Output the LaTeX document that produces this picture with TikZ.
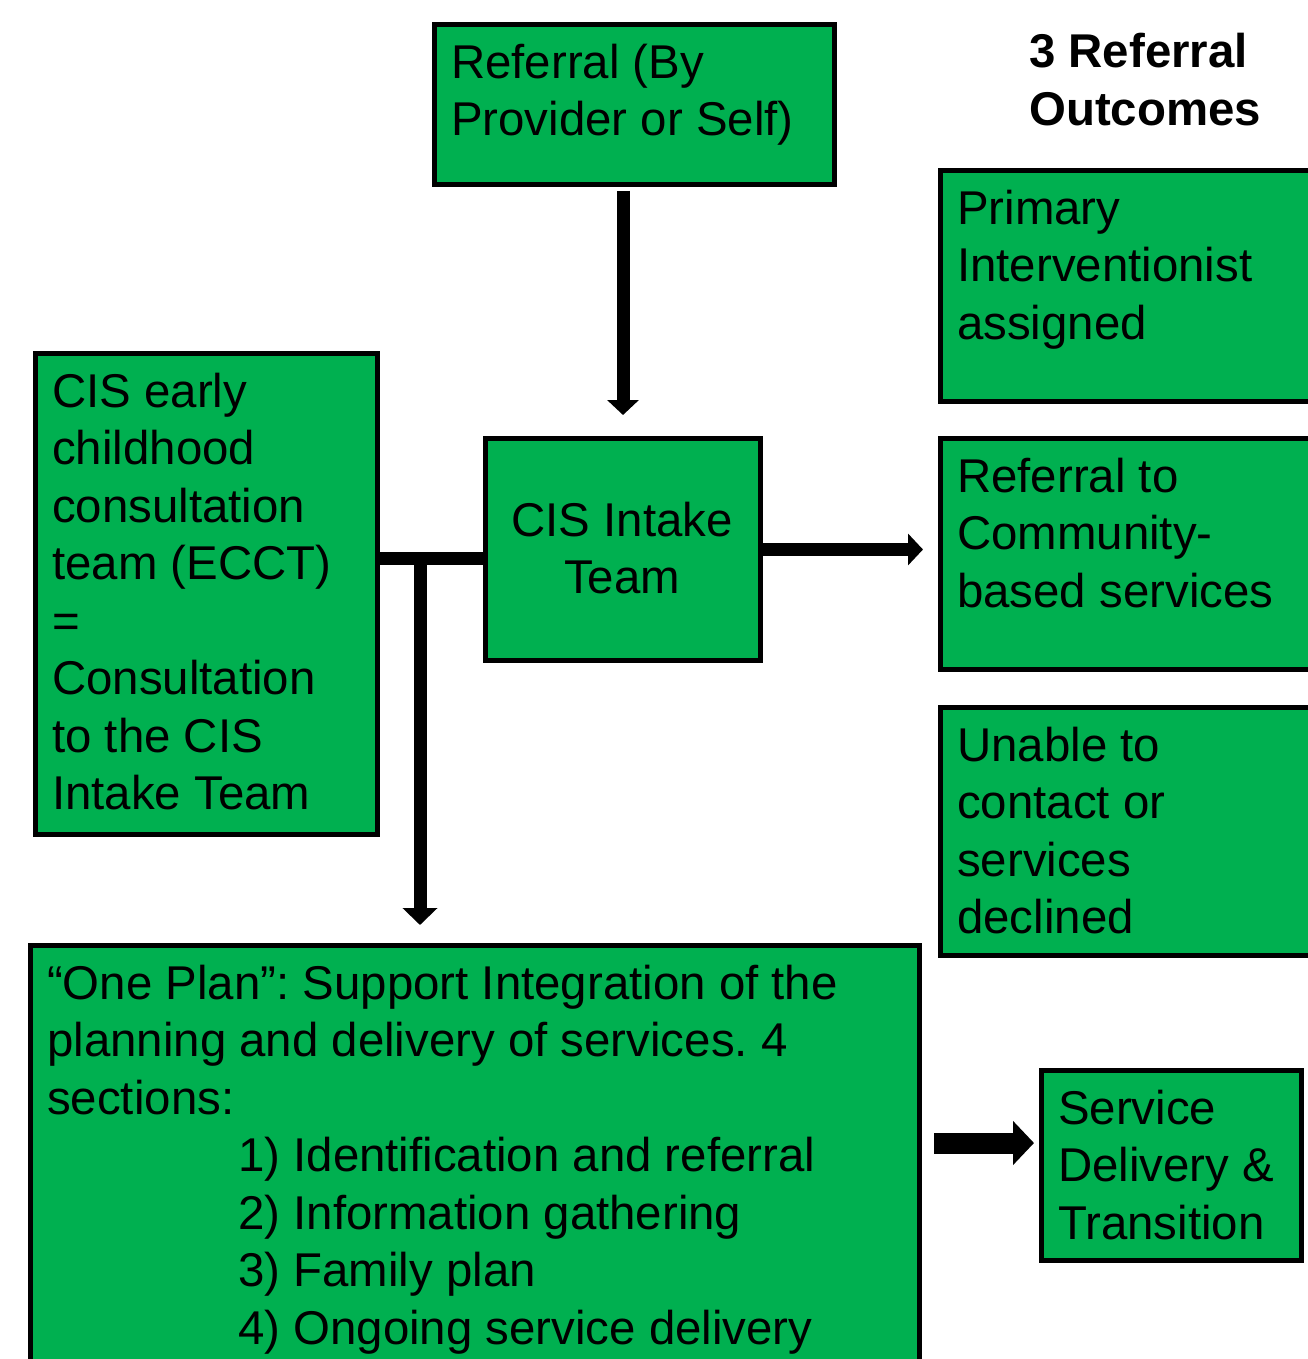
\documentclass[tikz,border=0pt]{standalone}
\usepackage{fontspec}
\setmainfont{Liberation Sans}
\usepackage{tikz}
\usetikzlibrary{arrows.meta}
\definecolor{boxgreen}{RGB}{0,176,80}

\begin{document}
\frenchspacing
\begin{tikzpicture}[x=1pt,y=-1pt,
	greenbox/.style={draw=black, line width=5pt, fill=boxgreen, rectangle, anchor=north west, inner sep=0pt},
	boxtext/.style={anchor=north west, align=left, inner sep=0pt, font=\fontsize{47.4}{57.5}\selectfont, execute at begin node=\strut},
	flowline/.style={line width=13pt},
	flowarrow/.style={line width=13pt, -{Triangle[width=31pt,length=15pt]}}]
	
	\useasboundingbox (0,0) rectangle (1308,1359);
	
	\node[greenbox, minimum width=400pt, minimum height=160pt] (referral) at (432,22) {};
	
	\node[greenbox, minimum width=275pt, minimum height=222pt] (intake) at (483,436) {};
	
	\node[greenbox, minimum width=342pt, minimum height=481pt] (ecct) at (33,351) {};
	
	\node[greenbox, minimum width=889pt, minimum height=470pt] (oneplan) at (28,943) {};
	
	\node[greenbox, minimum width=420pt, minimum height=231pt] (primary) at (938,168) {};
	
	\node[greenbox, minimum width=420pt, minimum height=231pt] (community) at (938,436) {};
	
	\node[greenbox, minimum width=420pt, minimum height=248pt] (unable) at (938,705) {};
	
	\node[greenbox, minimum width=260pt, minimum height=190pt] (service) at (1039,1068) {};
	
	\node[boxtext] (referraltext) at (451,43.75) {Referral (By\\Provider or Self)};
	
	\node[boxtext, anchor=north, align=center] (intaketext) at (622,501.75) {CIS Intake\\Team};
	
	\node[boxtext] (eccttext) at (52,372.75) {CIS early\\childhood\\consultation\\team (ECCT)\\=\\Consultation\\to the CIS\\Intake Team};
	
	\node[boxtext] (oneplantext) at (47,964.75) {“One Plan”: Support Integration of the\\planning and delivery of services. 4\\sections:\\\hspace*{191pt}1) Identification and referral\\\hspace*{191pt}2) Information gathering\\\hspace*{191pt}3) Family plan\\\hspace*{191pt}4) Ongoing service delivery};
	
	\node[boxtext] (primarytext) at (957,189.75) {Primary\\Interventionist\\assigned};
	
	\node[boxtext] (communitytext) at (957,457.75) {Referral to\\Community-\\based services};
	
	\node[boxtext] (unabletext) at (957,726.75) {Unable to\\contact or\\services\\declined};
	
	\node[boxtext] (servicetext) at (1058,1089.75) {Service\\Delivery \&\\Transition};
	
	\node[boxtext, font=\bfseries\fontsize{47.4}{57.5}\selectfont] (outcomes) at (1029,33.25) {3 Referral\\Outcomes};
	
	\coordinate (join) at (420,558);
	\coordinate (handoff) at (0,1143);
	
	\draw[flowarrow, shorten <=4pt, shorten >=21pt] (intake.north |- referral.south) -- (intake.north);
	\draw[flowarrow, shorten >=15pt] (intake.east) -- (intake.east -| community.west);
	\draw[flowline] (ecct.east |- join) -- (intake.west |- join);
	\draw[flowarrow, -{Triangle[width=34pt,length=17pt]}, shorten >=18pt] (join) -- (join |- oneplan.north);
	\draw[line width=21pt, -{Triangle[width=43pt,length=21pt]}, shorten <=12pt, shorten >=5pt] (oneplan.east |- handoff) -- (service.west |- handoff);
	
\end{tikzpicture}
\end{document}
